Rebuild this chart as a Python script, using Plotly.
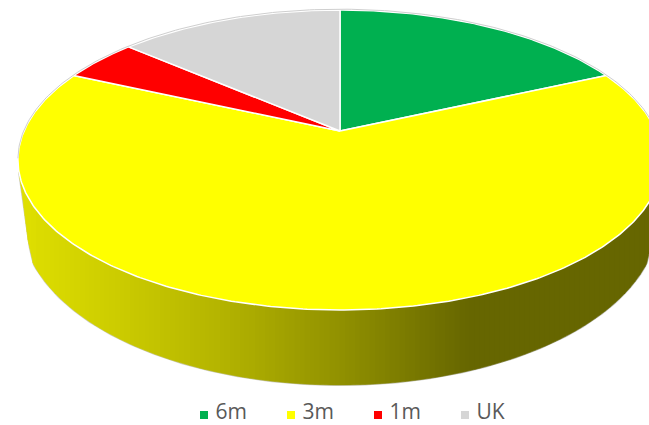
import numpy as np
import plotly.graph_objects as go

categories = ["6m", "3m", "1m", "UK"]
shares = [18.2, 63.6, 4.6, 13.6]
colors = ["#00B050", "#FFFF00", "#FF0000", "#D6D6D6"]

W, H = 649, 425
APEX_X, APEX_Y = 340.0, 131.0
F, G, K = 316.0, 144.4, 0.1933
# lower rim of the wall
BOT_CX, BOT_CY, BOT_RX, BOT_RY = 340.0, 220.0, 318.0, 165.0


def project(theta):
    x, y = np.sin(theta), np.cos(theta)
    d = 1 + K * y
    return APEX_X + F * x / d, APEX_Y - G * y / d


def top_edge(px):
    t = np.clip((px - 340.0) / 322.0, -1, 1)
    return 160.0 + 150.0 * np.sqrt(1 - t ** 2)


def bottom_edge(px):
    dx = np.abs(px - BOT_CX)
    t = np.clip(dx / BOT_RX, -1, 1)
    ell = BOT_CY + BOT_RY * np.sqrt(1 - t ** 2)
    side = np.interp(dx, [307, 312, 317, 321], [262, 240, 200, 172])
    return np.where(dx > 307, side, ell)


def wall_color(px):
    stops_x = [18, 100, 220, 340, 420, 470, 649]
    stops_v = [224, 208, 180, 145, 118, 102, 102]
    v = np.interp(px, stops_x, stops_v)
    return f"rgb({v:.0f},{v:.0f},0)"


fig = go.Figure()

# outer silhouette of the wall
xs = np.linspace(19, 660, 300)
fig.add_trace(go.Scatter(
    x=xs, y=bottom_edge(xs), mode="lines",
    line=dict(color="#CFCFCF", width=2), hoverinfo="skip", showlegend=False))

# wall, as narrow upright bands
edges = np.r_[np.arange(19, 40, 1.0), np.arange(40, 655, 5.0)]
for a, b in zip(edges[:-1], edges[1:]):
    px = np.linspace(a, b, 4)
    c = wall_color((a + b) / 2)
    fig.add_trace(go.Scatter(
        x=np.r_[px, px[::-1]],
        y=np.r_[top_edge(px) - 2, bottom_edge(px[::-1])],
        mode="lines", fill="toself", fillcolor=c,
        line=dict(color=c, width=0.6), hoverinfo="skip", showlegend=False))

# top face, one sector per category
start = 0.0
total = sum(shares)
for name, share, color in zip(categories, shares, colors):
    end = start + share / total * 2 * np.pi
    th = np.linspace(start, end, max(8, int(share * 6)))
    ex, ey = project(th)
    fig.add_trace(go.Scatter(
        x=np.r_[APEX_X, ex, APEX_X], y=np.r_[APEX_Y, ey, APEX_Y],
        mode="lines", fill="toself", fillcolor=color,
        line=dict(color="white", width=1.5), name=name,
        hoverinfo="name", showlegend=False))
    start = end

# thin grey rim on the far side of the top face
th = np.linspace(-np.pi * 0.56, np.pi * 0.56, 200)
rx, ry = project(th)
fig.add_trace(go.Scatter(
    x=rx, y=ry - 0.8, mode="lines", line=dict(color="#CFCFCF", width=1),
    hoverinfo="skip", showlegend=False))

# legend row
legend_x = [204, 291, 378, 465]
for name, color, lx in zip(categories, colors, legend_x):
    fig.add_trace(go.Scatter(
        x=[lx], y=[415], mode="markers",
        marker=dict(symbol="square", size=8, color=color),
        hoverinfo="skip", showlegend=False))
    fig.add_trace(go.Scatter(
        x=[lx + 11.5], y=[414], mode="text", text=[name], textposition="middle right",
        textfont=dict(family="Open Sans", size=21, color="#595959"),
        hoverinfo="skip", showlegend=False))

fig.update_layout(
    width=W, height=H, margin=dict(l=0, r=0, t=0, b=0),
    paper_bgcolor="white", plot_bgcolor="white",
    xaxis=dict(range=[0, W], visible=False, fixedrange=True),
    yaxis=dict(range=[H, 0], visible=False, fixedrange=True),
)
fig.write_html(
    "out.html",
    config={"displayModeBar": False},
    post_script="document.body.style.margin='0';document.documentElement.style.overflow='hidden';",
)
